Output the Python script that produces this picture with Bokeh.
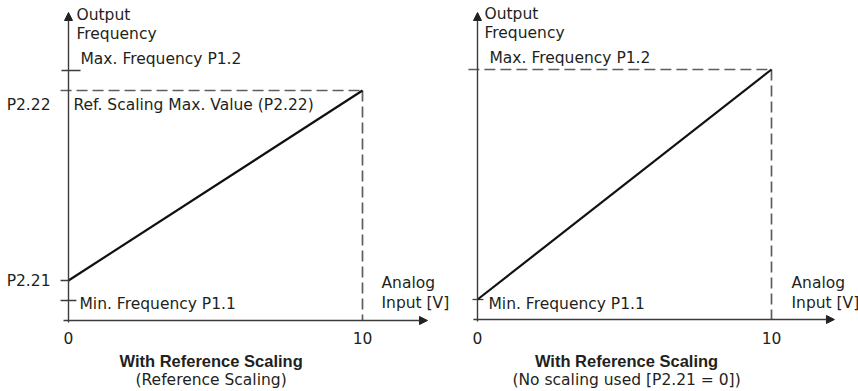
from bokeh.plotting import figure
from bokeh.models import Range1d, Arrow, NormalHead
from bokeh.core.properties import value
from bokeh.embed import file_html
from bokeh.resources import INLINE

# ---- data (schematic values) ----
volts = [0, 10]
x_ticks = [0, 10]
x_tick_labels = ["0", "10"]

# left panel: reference scaling
left_min_freq = 4      # P1.1
left_p2_21 = 8         # P2.21
left_p2_22 = 46        # P2.22
left_max_freq = 50     # P1.2
left_line = [left_p2_21, left_p2_22]

# right panel: no scaling
right_min_freq = 4     # P1.1
right_max_freq = 50    # P1.2
right_line = [right_min_freq, right_max_freq]

captions_bold = ["With Reference Scaling", "With Reference Scaling"]
captions_sub = ["(Reference Scaling)", "(No scaling used [P2.21 = 0])"]

# ---- styling helpers ----
W, H = 858, 391
PXX = 10 / 294.0   # volts per pixel
PXY = 50 / 250.0   # freq units per pixel
FONT = value("DejaVu Sans")
BOLD_FONT = value("Liberation Sans")
TXT = "#231f20"
AXC = "#3c3c3c"
DASHC = "#5e5e5e"
DASH = "11 5"
FS = "15.5px"

# panel origins (pixels) used only to set the ranges
LX0, LY0 = 68, 320
RX0, RY0 = 477, 319

p = figure(width=W, height=H,
           x_range=Range1d(-LX0 * PXX, (W - LX0) * PXX),
           y_range=Range1d((LY0 - H) * PXY, LY0 * PXY),
           output_backend="svg", toolbar_location=None, min_border=0,
           x_axis_location=None, y_axis_location=None)
p.extra_x_ranges = {"r": Range1d(-RX0 * PXX, (W - RX0) * PXX)}
p.extra_y_ranges = {"r": Range1d((RY0 - H) * PXY, RY0 * PXY)}
p.grid.visible = False
p.outline_line_color = None


def kw(side):
    return {} if side == "l" else {"x_range_name": "r", "y_range_name": "r"}


def axes(side, xtip, ytip, xstart, ystart):
    p.add_layout(Arrow(x_start=0, y_start=ystart, x_end=0, y_end=ytip,
                       line_color=AXC, line_width=1.4,
                       end=NormalHead(size=8, fill_color="#222222", line_color="#222222", line_width=1),
                       **kw(side)))
    p.add_layout(Arrow(x_start=xstart, y_start=0, x_end=xtip, y_end=0,
                       line_color=AXC, line_width=1.4,
                       end=NormalHead(size=8, fill_color="#222222", line_color="#222222", line_width=1),
                       **kw(side)))


def txt(side, xs, ys, texts, align="left", font=FONT, size=FS, style="normal"):
    p.text(x=xs, y=ys, text=texts, text_font=font, text_font_size=size,
           text_align=align, text_baseline="middle", text_color=TXT,
           text_font_style=style, **kw(side))


def seg(side, xs, ys, color=AXC, width=1.3, dash="solid"):
    p.line(xs, ys, line_color=color, line_width=width, line_dash=dash, **kw(side))


# ---------------- left panel ----------------
axes("l", 12.21, 61.6, -0.17, -0.4)
seg("l", [-0.27, volts[1]], [left_p2_22, left_p2_22], DASHC, 1.7, DASH)
seg("l", [volts[1], volts[1]], [left_p2_22, 0], DASHC, 1.7, DASH)
seg("l", [-0.24, 0.41], [left_max_freq, left_max_freq])
seg("l", [-0.27, 0], [left_p2_21, left_p2_21])
seg("l", [-0.27, 0.27], [left_min_freq, left_min_freq])
seg("l", volts, left_line, "#111111", 2.2)
txt("l", [8 * PXX, 8 * PXX], [61.2, 57.4], ["Output", "Frequency"])
txt("l", [12 * PXX], [left_max_freq + 2.4], ["Max. Frequency P1.2"])
txt("l", [5 * PXX], [left_p2_22 - 2.8], ["Ref. Scaling Max. Value (P2.22)"])
txt("l", [-18 * PXX, -18 * PXX], [left_p2_22 - 2.8, left_p2_21], ["P2.22", "P2.21"], align="right")
txt("l", [11 * PXX], [left_min_freq - 0.6], ["Min. Frequency P1.1"])
txt("l", x_ticks, [-3.4, -3.4], x_tick_labels, align="center")
txt("l", [volts[1] + 19 * PXX] * 2, [7.6, 3.6], ["Analog", "Input [V]"])
txt("l", [4.85], [-8.0], [captions_bold[0]], align="center", font=BOLD_FONT, size="16.5px", style="bold")
txt("l", [4.85], [-11.8], [captions_sub[0]], align="center")

# ---------------- right panel ----------------
axes("r", 12.14, 61.4, -0.14, -0.4)
seg("r", [-0.31, volts[1]], [right_max_freq, right_max_freq], DASHC, 1.7, DASH)
seg("r", [volts[1], volts[1]], [right_max_freq, 0], DASHC, 1.7, DASH)
seg("r", [-0.17, 0.2], [right_min_freq, right_min_freq])
seg("r", volts, right_line, "#111111", 2.2)
txt("r", [7 * PXX, 7 * PXX], [61.2, 57.4], ["Output", "Frequency"])
txt("r", [12 * PXX], [right_max_freq + 2.4], ["Max. Frequency P1.2"])
txt("r", [11 * PXX], [right_min_freq - 0.8], ["Min. Frequency P1.1"])
txt("r", x_ticks, [-3.6, -3.6], x_tick_labels, align="center")
txt("r", [volts[1] + 20 * PXX] * 2, [7.4, 3.4], ["Analog", "Input [V]"])
txt("r", [5.07], [-8.2], [captions_bold[1]], align="center", font=BOLD_FONT, size="16.5px", style="bold")
txt("r", [5.07], [-12.0], [captions_sub[1]], align="center")

open("out.html", "w").write(file_html(p, INLINE))
